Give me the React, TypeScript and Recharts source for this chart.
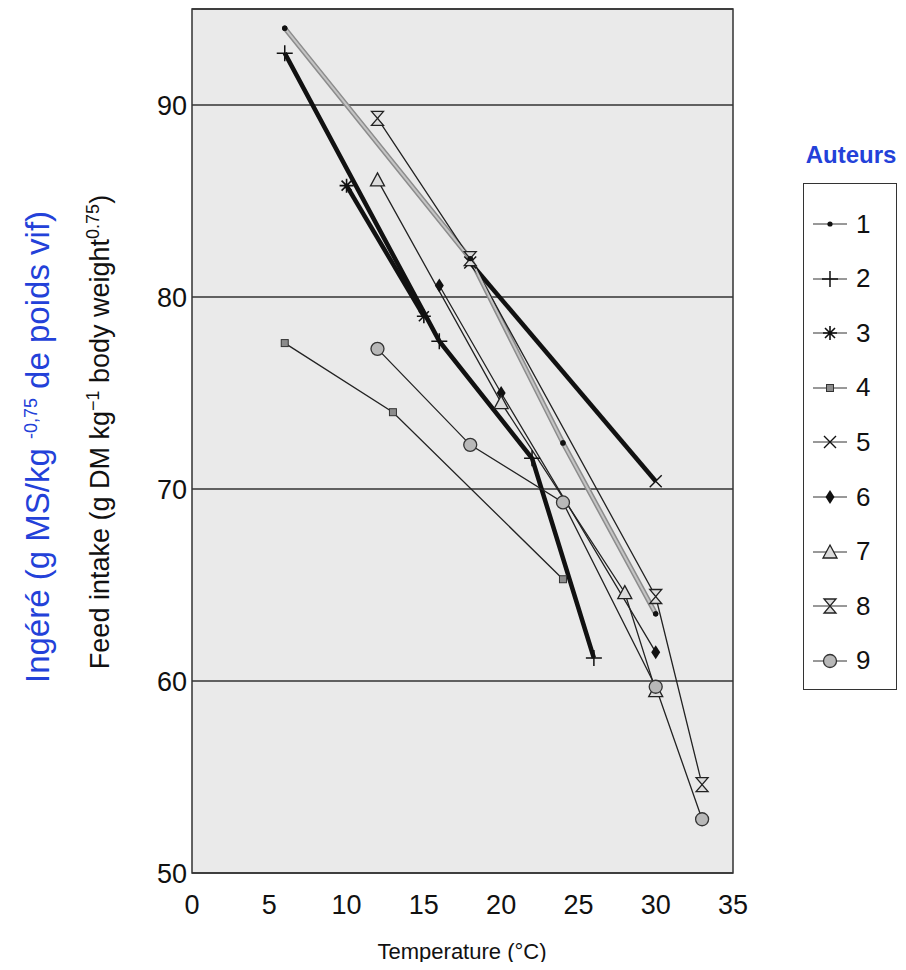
import { LineChart, Line, XAxis, YAxis, CartesianGrid, ReferenceArea } from 'recharts';

type Pt = { x: number; y: number };

// temperature ticks (°C) and intake ticks
const tempTicks = [0, 5, 10, 15, 20, 25, 30, 35];
const intakeTicks = [50, 60, 70, 80, 90];

// one array per author
const auteur1: Pt[] = [
  { x: 6, y: 94 }, { x: 18, y: 82 }, { x: 24, y: 72.4 }, { x: 30, y: 63.5 },
];
const auteur2: Pt[] = [
  { x: 6, y: 92.7 }, { x: 16, y: 77.7 }, { x: 22, y: 71.6 }, { x: 26, y: 61.2 },
];
const auteur3: Pt[] = [{ x: 10, y: 85.8 }, { x: 15, y: 79 }];
const auteur4: Pt[] = [{ x: 6, y: 77.6 }, { x: 13, y: 74 }, { x: 24, y: 65.3 }];
const auteur5: Pt[] = [{ x: 18, y: 81.8 }, { x: 30, y: 70.4 }];
const auteur6: Pt[] = [{ x: 16, y: 80.6 }, { x: 20, y: 75 }, { x: 30, y: 61.5 }];
const auteur7: Pt[] = [
  { x: 12, y: 86.1 }, { x: 20, y: 74.5 }, { x: 28, y: 64.6 }, { x: 30, y: 59.5 },
];
const auteur8: Pt[] = [
  { x: 12, y: 89.3 }, { x: 18, y: 82 }, { x: 30, y: 64.4 }, { x: 33, y: 54.6 },
];
const auteur9: Pt[] = [
  { x: 12, y: 77.3 }, { x: 18, y: 72.3 }, { x: 24, y: 69.3 }, { x: 30, y: 59.7 }, { x: 33, y: 52.8 },
];

type Kind = 'dot' | 'plus' | 'star' | 'square' | 'cross' | 'diamond' | 'triangle' | 'hourglass' | 'circle';

const series: { name: string; data: Pt[]; kind: Kind; stroke: string; width: number }[] = [
  { name: '1', data: auteur1, kind: 'dot', stroke: '#8c8c8c', width: 5 },
  { name: '2', data: auteur2, kind: 'plus', stroke: '#111', width: 4.5 },
  { name: '3', data: auteur3, kind: 'star', stroke: '#111', width: 4.5 },
  { name: '4', data: auteur4, kind: 'square', stroke: '#222', width: 1.3 },
  { name: '5', data: auteur5, kind: 'cross', stroke: '#111', width: 4.5 },
  { name: '6', data: auteur6, kind: 'diamond', stroke: '#222', width: 1.3 },
  { name: '7', data: auteur7, kind: 'triangle', stroke: '#222', width: 1.3 },
  { name: '8', data: auteur8, kind: 'hourglass', stroke: '#222', width: 1.3 },
  { name: '9', data: auteur9, kind: 'circle', stroke: '#222', width: 1.3 },
];

const FONT = '"Liberation Sans", Arial, Helvetica, sans-serif';
const BLUE = '#2341d9';

function Marker({ cx, cy, kind }: { cx: number; cy: number; kind: Kind }) {
  if (cx == null || cy == null) return null;
  switch (kind) {
    case 'dot':
      return <circle cx={cx} cy={cy} r={2.6} fill="#111" />;
    case 'plus':
      return (
        <path d={`M${cx - 8},${cy}H${cx + 8}M${cx},${cy - 8}V${cy + 8}`} stroke="#111" strokeWidth={1.5} fill="none" />
      );
    case 'star':
      return (
        <path
          d={`M${cx - 7},${cy}H${cx + 7}M${cx},${cy - 7}V${cy + 7}M${cx - 5},${cy - 5}L${cx + 5},${cy + 5}M${cx - 5},${cy + 5}L${cx + 5},${cy - 5}`}
          stroke="#111" strokeWidth={1.6} fill="none"
        />
      );
    case 'square':
      return <rect x={cx - 3.5} y={cy - 3.5} width={7} height={7} fill="#8c8c8c" stroke="#333" strokeWidth={1} />;
    case 'cross':
      return (
        <path d={`M${cx - 6},${cy - 6}L${cx + 6},${cy + 6}M${cx - 6},${cy + 6}L${cx + 6},${cy - 6}`} stroke="#111" strokeWidth={1.4} fill="none" />
      );
    case 'diamond':
      return <path d={`M${cx},${cy - 7}L${cx + 4.5},${cy}L${cx},${cy + 7}L${cx - 4.5},${cy}Z`} fill="#111" />;
    case 'triangle':
      return <path d={`M${cx},${cy - 7}L${cx + 7},${cy + 6}L${cx - 7},${cy + 6}Z`} fill="#dcdcdc" stroke="#222" strokeWidth={1.3} />;
    case 'hourglass':
      return (
        <path d={`M${cx - 6},${cy - 7}H${cx + 6}L${cx - 6},${cy + 7}H${cx + 6}Z`} fill="#dcdcdc" stroke="#222" strokeWidth={1.3} />
      );
    case 'circle':
      return <circle cx={cx} cy={cy} r={6.5} fill="#b8b8b8" stroke="#333" strokeWidth={1.3} />;
  }
  return null;
}

function LegendBox() {
  return (
    <div
      style={{
        position: 'absolute', left: 795, top: 175, width: 94, height: 507,
        border: '1.5px solid #333', boxSizing: 'border-box', background: '#fff',
      }}
    >
      {series.map((s, i) => (
        <div
          key={s.name}
          style={{
            position: 'absolute', left: 9, top: 30 + i * 54.6, height: 20,
            display: 'flex', alignItems: 'center',
          }}
        >
          <svg width={34} height={20}>
            <line x1={0} y1={10} x2={34} y2={10} stroke="#333" strokeWidth={1} />
            <Marker cx={17} cy={10} kind={s.kind} />
          </svg>
          <span style={{ marginLeft: 9, fontSize: 26, fontFamily: FONT, color: '#111' }}>{s.name}</span>
        </div>
      ))}
    </div>
  );
}

export default function App() {
  return (
    <div style={{ position: 'relative', width: 890, height: 954, fontFamily: FONT }}>
      <LineChart width={890} height={954} margin={{ top: 1, right: 165, bottom: 0, left: 0 }}>
        <CartesianGrid vertical={false} stroke="#333" strokeWidth={1.4} fill="#eaeaea" />
        <XAxis
          dataKey="x"
          type="number"
          domain={[0, 35]}
          ticks={tempTicks}
          height={89}
          tickLine={false}
          axisLine={false}
          tickSize={0}
          tickMargin={22}
          tick={{ fontSize: 27, fill: '#111', fontFamily: FONT }}
          allowDuplicatedCategory={false}
        />
        <YAxis
          dataKey="y"
          type="number"
          domain={[50, 95]}
          ticks={intakeTicks}
          width={184}
          tickLine={false}
          axisLine={false}
          tickSize={0}
          tickMargin={5}
          tick={{ fontSize: 27, fill: '#111', fontFamily: FONT }}
        />
        <ReferenceArea x1={0} x2={35} y1={50} y2={95} fill="none" fillOpacity={0} stroke="#333" strokeWidth={1.5} />
        {series.map((s) => (
          <Line
            key={s.name}
            data={s.data}
            dataKey="y"
            name={s.name}
            type="linear"
            stroke={s.stroke}
            strokeWidth={s.width}
            isAnimationActive={false}
            dot={(p: any) => <Marker key={`${s.name}-${p.index}`} cx={p.cx} cy={p.cy} kind={s.kind} />}
            activeDot={false}
          />
        ))}
        {/* light core of author 1's grey band */}
        <Line
          data={auteur1}
          dataKey="y"
          name="1-core"
          type="linear"
          stroke="#c4c4c4"
          strokeWidth={2}
          isAnimationActive={false}
          dot={(p: any) => <Marker key={`core-${p.index}`} cx={p.cx} cy={p.cy} kind="dot" />}
          activeDot={false}
        />
      </LineChart>

      <div
        style={{
          position: 'absolute', left: 30, top: 439, transform: 'translate(-50%, -50%) rotate(-90deg)',
          whiteSpace: 'nowrap', fontSize: 33, color: BLUE,
        }}
      >
        Ingéré (g MS/kg <sup style={{ fontSize: 18 }}>-0,75</sup> de poids vif)
      </div>
      <div
        style={{
          position: 'absolute', left: 91, top: 424, transform: 'translate(-50%, -50%) rotate(-90deg)',
          whiteSpace: 'nowrap', fontSize: 27, color: '#111',
        }}
      >
        Feed intake (g DM kg<sup style={{ fontSize: 18 }}>−1</sup> body weight<sup style={{ fontSize: 18 }}>0.75</sup>)
      </div>
      <div
        style={{
          position: 'absolute', left: 454, top: 944, transform: 'translate(-50%, -50%)',
          whiteSpace: 'nowrap', fontSize: 22, color: '#111',
        }}
      >
        Temperature (°C)
      </div>
      <div
        style={{
          position: 'absolute', left: 843, top: 147, transform: 'translate(-50%, -50%)',
          whiteSpace: 'nowrap', fontSize: 24, fontWeight: 'bold', color: BLUE,
        }}
      >
        Auteurs
      </div>
      <LegendBox />
    </div>
  );
}
